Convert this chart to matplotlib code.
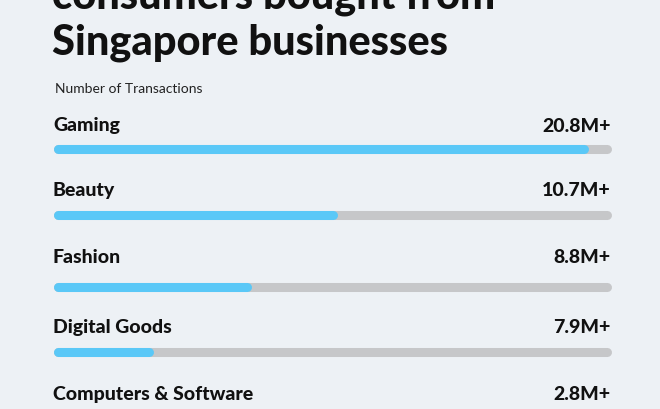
import matplotlib.pyplot as plt

categories = ["Gaming", "Beauty", "Fashion", "Digital Goods", "Computers & Software"]
value_labels = ["20.8M+", "10.7M+", "8.8M+", "7.9M+", "2.8M+"]
fill_share = [0.96, 0.51, 0.355, 0.18, 0.08]

bg = "#edf1f5"
blue = "#5ac8f7"
grey = "#c6c7c9"
plt.rcParams['font.family'] = ['Lato', 'DejaVu Sans']

fig = plt.figure(figsize=(6.6, 4.1), dpi=100, facecolor=bg)
ax = fig.add_axes([0, 0, 1, 1])
ax.set_facecolor(bg)
ax.set_xlim(0, 660)
ax.set_ylim(410, 0)
ax.axis('off')

ax.text(52, 9, "consumers bought from", fontsize=30, weight='black', color='#111111', va='baseline')
ax.text(52, 55, "Singapore businesses", fontsize=30, weight='black', color='#111111', va='baseline')
ax.text(55, 89, "Number of Transactions", fontsize=10, color='#222222', va='center')

label_y = [126, 191, 258, 328, 395]
bar_y = [150, 216, 288, 353, 420]
x0, x1 = 53, 611
r = 4.5
for cat, val, share, ly, by in zip(categories, value_labels, fill_share, label_y, bar_y):
    ax.text(x0, ly, cat, fontsize=14, weight='black', color='#111111', va='center')
    ax.text(x1, ly, val, fontsize=14, weight='black', color='#111111', va='center', ha='right')
    ax.plot([x0 + r, x1 - r], [by, by], color=grey, lw=6.5, solid_capstyle='round')
    xe = x0 + share * (x1 - x0)
    ax.plot([x0 + r, xe - r], [by, by], color=blue, lw=6.5, solid_capstyle='round')

fig.savefig("out.png", dpi=100, facecolor=bg)
